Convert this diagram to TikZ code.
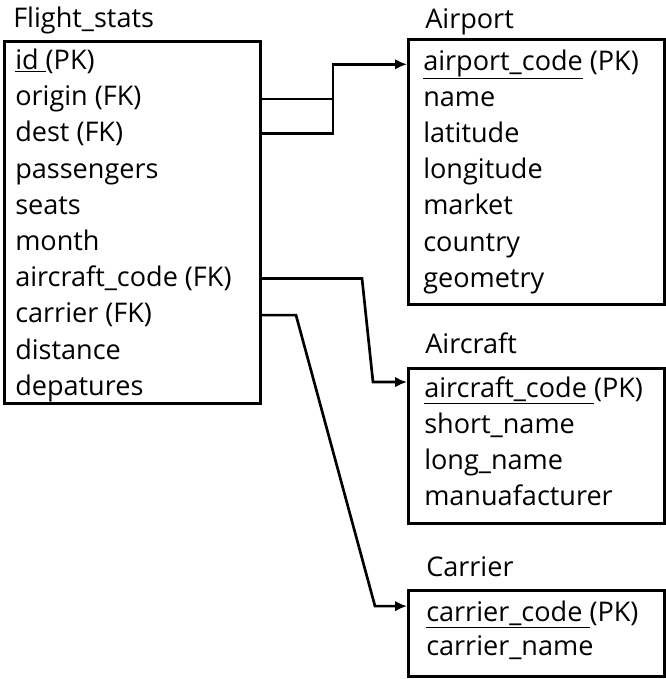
\documentclass[tikz,border=0pt]{standalone}
\usepackage{fontspec}
\setmainfont{Open Sans}
\usetikzlibrary{arrows.meta}
\tikzset{
  tbl/.style={draw,line width=2pt,inner sep=0pt,anchor=north west},
  ttl/.style={anchor=base west,inner sep=0pt},
  fld/.style={anchor=base west,inner sep=0pt},
  ln/.style={line width=2pt},
  fk/.style={line width=2pt,-{Latex[length=9pt,width=8pt]}},
}
\begin{document}
\begin{tikzpicture}[x=0.75pt,y=-0.75pt,every node/.style={font=\fontsize{20.3}{24}\selectfont}]
\useasboundingbox (0,0) rectangle (665,679);
% tables
\node[tbl,minimum width=192pt,minimum height=271.5pt] (fs) at (3,40) {};
\node[tbl,minimum width=192pt,minimum height=198.75pt] (ap) at (407,38) {};
\node[tbl,minimum width=192pt,minimum height=116.25pt] (ac) at (407,367) {};
\node[tbl,minimum width=192pt,minimum height=64.5pt] (ca) at (407,589) {};
% titles
\node[ttl] (tfs) at (13,27) {Flight\_stats};
\node[ttl] (tap) at (425,28) {Airport};
\node[ttl] (tac) at (425,353) {Aircraft};
\node[ttl] (tca) at (426,576) {Carrier};
% Flight_stats fields
\node[fld] (fid) at (15,69.5) {\underline{id }(PK)};
\node[fld] (fori) at (15,105.7) {origin (FK)};
\node[fld] (fdst) at (15,141.9) {dest (FK)};
\node[fld] (fpas) at (15,178.1) {passengers};
\node[fld] (fsea) at (15,214.3) {seats};
\node[fld] (fmon) at (15,250.5) {month};
\node[fld] (facf) at (15,286.7) {aircraft\_code (FK)};
\node[fld] (fcar) at (15,322.9) {carrier (FK)};
\node[fld] (fdis) at (15,359.1) {distance};
\node[fld] (fdep) at (15,395.3) {depatures};
% Airport fields
\node[fld] (apk) at (423,70.0) {\underline{airport\_code} (PK)};
\node[fld] (anam) at (423,106.2) {name};
\node[fld] (alat) at (423,142.4) {latitude};
\node[fld] (alon) at (423,178.6) {longitude};
\node[fld] (amar) at (423,214.8) {market};
\node[fld] (acou) at (423,251.0) {country};
\node[fld] (ageo) at (423,287.2) {geometry};
% Aircraft fields
\node[fld] (ack) at (424,397) {\underline{aircraft\_code }(PK)};
\node[fld] (acs) at (424,433) {short\_name};
\node[fld] (acl) at (424,469) {long\_name};
\node[fld] (acm) at (424,505) {manuafacturer};
% Carrier fields
\node[fld] (cak) at (426,621) {\underline{carrier\_code }(PK)};
\node[fld] (can) at (426,655) {carrier\_name};
% bends
\coordinate (jA) at (333,0);
\coordinate (bA) at (362,0);
\coordinate (bB) at (373,0);
\coordinate (bC) at (296,0);
\coordinate (bD) at (375,0);
\coordinate (ackIn) at ([yshift=6pt]ack.west);
\coordinate (cakIn) at ([yshift=6pt]cak.west);
% connectors
\draw[ln] (fori.west -| fs.east) -- (fori.west -| jA);
\draw[fk] (fdst.west -| fs.east) -| (jA |- apk.west) -- (apk.west -| ap.west);
\draw[fk] (facf.west -| fs.east) -- (facf.west -| bA) -- (ackIn -| bB) -- (ackIn -| ac.west);
\draw[fk] (fcar.west -| fs.east) -- (fcar.west -| bC) -- (cakIn -| bD) -- (cakIn -| ca.west);
\end{tikzpicture}
\end{document}
